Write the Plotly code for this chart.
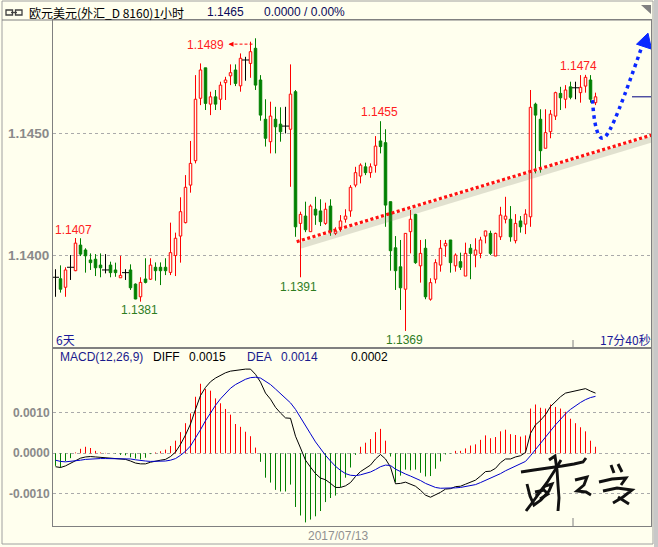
import plotly.graph_objects as go

# ---------------- data (EUR/USD, 1 hour bars, oldest first) ----------------
opens = [1.13910, 1.13904, 1.13869, 1.13951, 1.13937, 1.14042, 1.14022, 1.13981, 1.13984, 1.13960,
         1.13940, 1.13960, 1.13940, 1.13908, 1.13929, 1.13940, 1.13882, 1.13830, 1.13903, 1.13902,
         1.13951, 1.13951, 1.13951, 1.13930, 1.13999, 1.14079, 1.14134, 1.14288, 1.14388, 1.14644,
         1.14769, 1.14620, 1.14650, 1.14640, 1.14708, 1.14736, 1.14760, 1.14695, 1.14801, 1.14787,
         1.14849, 1.14719, 1.14558, 1.14466, 1.14558, 1.14538, 1.14530, 1.14517, 1.14671, 1.14131,
         1.14161, 1.14097, 1.14189, 1.14182, 1.14131, 1.14202, 1.14090, 1.14111, 1.14148, 1.14182,
         1.14288, 1.14325, 1.14363, 1.14339, 1.14369, 1.14469, 1.14462, 1.14220, 1.14031, 1.13953,
         1.13861, 1.14097, 1.14168, 1.13957, 1.14029, 1.13820, 1.13902, 1.13960, 1.14039, 1.14063,
         1.13957, 1.13974, 1.13915, 1.14029, 1.14001, 1.14008, 1.14079, 1.14090, 1.13997, 1.14076,
         1.14148, 1.14148, 1.14060, 1.14141, 1.14128, 1.14158, 1.14620, 1.14558, 1.14439, 1.14507,
         1.14571, 1.14664, 1.14640, 1.14691, 1.14687, 1.14667, 1.14694, 1.14719, 1.14626]
highs = [1.13943, 1.13959, 1.13951, 1.14001, 1.14071, 1.14070, 1.14029, 1.14008, 1.14005, 1.14008,
         1.14005, 1.13974, 1.13970, 1.13998, 1.13943, 1.13963, 1.13885, 1.13910, 1.13988, 1.13988,
         1.13971, 1.13971, 1.13988, 1.14134, 1.14093, 1.14238, 1.14329, 1.14469, 1.14739, 1.14787,
         1.14769, 1.14671, 1.14678, 1.14712, 1.14732, 1.14783, 1.14783, 1.14828, 1.14814, 1.14876,
         1.14890, 1.14739, 1.14640, 1.14630, 1.14609, 1.14607, 1.14609, 1.14783, 1.14678, 1.14179,
         1.14220, 1.14209, 1.14240, 1.14230, 1.14216, 1.14230, 1.14115, 1.14165, 1.14189, 1.14288,
         1.14363, 1.14377, 1.14380, 1.14377, 1.14489, 1.14550, 1.14517, 1.14220, 1.14079, 1.14063,
         1.14090, 1.14186, 1.14170, 1.14063, 1.14066, 1.13906, 1.13984, 1.14063, 1.14063, 1.14063,
         1.14008, 1.14011, 1.14052, 1.14046, 1.14070, 1.14076, 1.14101, 1.14101, 1.14093, 1.14199,
         1.14240, 1.14202, 1.14169, 1.14161, 1.14189, 1.14678, 1.14626, 1.14599, 1.14599, 1.14596,
         1.14671, 1.14691, 1.14698, 1.14712, 1.14712, 1.14739, 1.14740, 1.14739, 1.14667]
lows = [1.13830, 1.13847, 1.13830, 1.13899, 1.13935, 1.13997, 1.13929, 1.13940, 1.13915, 1.13910,
        1.13926, 1.13910, 1.13912, 1.13908, 1.13899, 1.13858, 1.13820, 1.13810, 1.13885, 1.13899,
        1.13896, 1.13878, 1.13919, 1.13919, 1.13915, 1.13970, 1.14131, 1.14257, 1.14377, 1.14616,
        1.14596, 1.14575, 1.14596, 1.14596, 1.14637, 1.14698, 1.14694, 1.14671, 1.14716, 1.14728,
        1.14678, 1.14552, 1.14446, 1.14418, 1.14418, 1.14466, 1.14500, 1.14281, 1.14076, 1.13910,
        1.14095, 1.14097, 1.14125, 1.14120, 1.14125, 1.14080, 1.14083, 1.14097, 1.14134, 1.14158,
        1.14279, 1.14295, 1.14329, 1.14318, 1.14339, 1.14418, 1.14117, 1.13937, 1.13858, 1.13776,
        1.13690, 1.14008, 1.13965, 1.13888, 1.13820, 1.13814, 1.13885, 1.13933, 1.13994, 1.13929,
        1.13933, 1.13940, 1.13915, 1.13902, 1.13951, 1.13988, 1.14049, 1.14001, 1.13997, 1.14063,
        1.14131, 1.14056, 1.14049, 1.14093, 1.14087, 1.14117, 1.14336, 1.14339, 1.14439, 1.14480,
        1.14555, 1.14596, 1.14603, 1.14640, 1.14640, 1.14626, 1.14667, 1.14626, 1.14616]
closes = [1.13910, 1.13861, 1.13940, 1.13951, 1.14050, 1.14005, 1.13998, 1.13970, 1.13949, 1.13949,
          1.13940, 1.13929, 1.13929, 1.13918, 1.13929, 1.13867, 1.13821, 1.13889, 1.13889, 1.13960,
          1.13937, 1.13937, 1.13937, 1.14011, 1.14070, 1.14179, 1.14279, 1.14377, 1.14640, 1.14760,
          1.14623, 1.14650, 1.14620, 1.14698, 1.14719, 1.14749, 1.14705, 1.14808, 1.14801, 1.14835,
          1.14698, 1.14575, 1.14480, 1.14571, 1.14527, 1.14507, 1.14530, 1.14661, 1.14117, 1.14168,
          1.14105, 1.14202, 1.14165, 1.14138, 1.14189, 1.14097, 1.14100, 1.14141, 1.14161, 1.14279,
          1.14339, 1.14370, 1.14339, 1.14363, 1.14448, 1.14446, 1.14206, 1.14019, 1.13937, 1.13867,
          1.14090, 1.14148, 1.13970, 1.14008, 1.13830, 1.13888, 1.13970, 1.14029, 1.14049, 1.13970,
          1.14001, 1.13951, 1.14008, 1.14008, 1.14022, 1.14063, 1.14100, 1.14008, 1.14090, 1.14165,
          1.14161, 1.14076, 1.14131, 1.14117, 1.14169, 1.14607, 1.14575, 1.14429, 1.14503, 1.14579,
          1.14667, 1.14646, 1.14678, 1.14648, 1.14687, 1.14689, 1.14730, 1.14640, 1.14650]

# MACD(12,26,9) values, in units of 0.001
macd_bar_milli = [-0.31, -0.35, -0.19, -0.12, 0.02, 0.11, 0.16, 0.13, 0.06, 0.02,
                  0.01, 0.00, -0.01, -0.04, -0.05, -0.10, -0.13, -0.15, -0.11, -0.02,
                  0.02, 0.05, 0.09, 0.18, 0.31, 0.52, 0.74, 0.98, 1.39, 1.71,
                  1.58, 1.54, 1.35, 1.23, 1.09, 0.95, 0.72, 0.65, 0.53, 0.42,
                  0.14, -0.21, -0.60, -0.72, -0.90, -0.94, -0.94, -0.77, -1.32, -1.53,
                  -1.70, -1.63, -1.55, -1.42, -1.20, -1.10, -1.04, -0.83, -0.60, -0.35,
                  -0.04, 0.16, 0.26, 0.35, 0.52, 0.60, 0.31, -0.08, -0.71, -0.55,
                  -0.40, -0.42, -0.40, -0.48, -0.57, -0.56, -0.38, -0.20, -0.03, -0.01,
                  0.06, 0.06, 0.12, 0.19, 0.22, 0.33, 0.44, 0.37, 0.40, 0.54,
                  0.58, 0.47, 0.45, 0.41, 0.44, 1.10, 1.20, 1.12, 1.10, 1.20,
                  1.14, 1.10, 1.02, 0.85, 0.74, 0.64, 0.54, 0.31, 0.16]
diff_milli = [-0.33, -0.35, -0.31, -0.25, -0.17, -0.12, -0.09, -0.08, -0.09, -0.10,
              -0.11, -0.12, -0.13, -0.14, -0.15, -0.19, -0.24, -0.26, -0.26, -0.22,
              -0.19, -0.17, -0.15, -0.08, 0.03, 0.22, 0.45, 0.72, 1.08, 1.42,
              1.62, 1.76, 1.85, 1.92, 1.98, 2.02, 2.04, 2.06, 2.07, 2.07,
              1.94, 1.75, 1.48, 1.33, 1.13, 0.99, 0.87, 0.86, 0.42, 0.13,
              -0.17, -0.34, -0.50, -0.61, -0.65, -0.74, -0.84, -0.84, -0.80, -0.72,
              -0.57, -0.45, -0.37, -0.29, -0.14, -0.03, -0.14, -0.34, -0.75, -0.74,
              -0.71, -0.77, -0.81, -0.91, -1.03, -1.08, -1.03, -0.96, -0.88, -0.87,
              -0.82, -0.81, -0.76, -0.71, -0.66, -0.56, -0.45, -0.44, -0.37, -0.23,
              -0.14, -0.14, -0.09, -0.06, 0.02, 0.49, 0.70, 0.81, 0.95, 1.15,
              1.27, 1.39, 1.48, 1.51, 1.54, 1.57, 1.59, 1.53, 1.48]
dea_milli = [-0.17, -0.20, -0.21, -0.20, -0.18, -0.17, -0.15, -0.14, -0.13, -0.13,
             -0.13, -0.13, -0.13, -0.13, -0.13, -0.14, -0.16, -0.18, -0.19, -0.20,
             -0.20, -0.20, -0.19, -0.17, -0.13, -0.05, 0.05, 0.18, 0.37, 0.58,
             0.80, 1.00, 1.18, 1.34, 1.48, 1.60, 1.69, 1.76, 1.82, 1.86,
             1.87, 1.85, 1.78, 1.69, 1.58, 1.46, 1.34, 1.24, 1.08, 0.89,
             0.68, 0.48, 0.28, 0.10, -0.05, -0.19, -0.32, -0.42, -0.50, -0.54,
             -0.55, -0.53, -0.50, -0.46, -0.40, -0.33, -0.29, -0.30, -0.39, -0.46,
             -0.51, -0.56, -0.61, -0.67, -0.74, -0.80, -0.84, -0.86, -0.86, -0.86,
             -0.85, -0.84, -0.82, -0.80, -0.77, -0.72, -0.67, -0.62, -0.57, -0.50,
             -0.43, -0.37, -0.31, -0.26, -0.20, -0.06, 0.10, 0.25, 0.40, 0.55,
             0.70, 0.84, 0.97, 1.08, 1.17, 1.25, 1.32, 1.37, 1.40]

price_ticks = [1.1400, 1.1450]
macd_ticks = [-0.0010, 0.0000, 0.0010]
date_label = "2017/07/13"
day_break = 103.5

BG = "#FFFFEE"
RED = "#FF0000"
GREEN = "#008000"
AXC = "#808080"

idx = list(range(len(opens)))
up = [i for i in idx if closes[i] > opens[i]]
dn = [i for i in idx if closes[i] < opens[i]]
dj = [i for i in idx if closes[i] == opens[i]]


def wicks(ids, full=False):
    xs, ys = [], []
    for i in ids:
        top, bot = max(opens[i], closes[i]), min(opens[i], closes[i])
        if full:
            xs += [i, i, None]
            ys += [lows[i], highs[i], None]
        else:
            xs += [i, i, None, i, i, None]
            ys += [highs[i], top, None, bot, lows[i], None]
    return xs, ys


fig = go.Figure()
for ids, col, full in [(up, RED, False), (dn, GREEN, False), (dj, "#000000", True)]:
    wx, wy = wicks(ids, full)
    fig.add_trace(go.Scatter(x=wx, y=wy, mode="lines", line=dict(color=col, width=1),
                             hoverinfo="skip", showlegend=False, xaxis="x", yaxis="y"))

fig.add_trace(go.Bar(x=up, y=[closes[i] - opens[i] for i in up], base=[opens[i] for i in up],
                     width=0.5, marker=dict(color=BG, line=dict(color=RED, width=1)),
                     showlegend=False, xaxis="x", yaxis="y"))
fig.add_trace(go.Bar(x=dn, y=[opens[i] - closes[i] for i in dn], base=[closes[i] for i in dn],
                     width=0.5, marker=dict(color=GREEN, line=dict(color=GREEN, width=1)),
                     showlegend=False, xaxis="x", yaxis="y"))
fig.add_trace(go.Scatter(x=dj, y=[opens[i] for i in dj], mode="markers",
                         marker=dict(symbol="line-ew", size=5, line=dict(color="#000000", width=1)),
                         showlegend=False, xaxis="x", yaxis="y"))

# MACD histogram
macd_bar = [v / 1000 for v in macd_bar_milli]
diff_line = [v / 1000 for v in diff_milli]
dea_line = [v / 1000 for v in dea_milli]
for sign, col in [(1, RED), (-1, GREEN)]:
    hx, hy = [], []
    for i in idx:
        v = macd_bar[i]
        if v * sign > 0:
            hx += [i, i, None]
            hy += [0, v, None]
    fig.add_trace(go.Scatter(x=hx, y=hy, mode="lines", line=dict(color=col, width=1),
                             showlegend=False, xaxis="x2", yaxis="y2"))
fig.add_trace(go.Scatter(x=idx, y=diff_line, mode="lines", line=dict(color="#000000", width=1),
                         showlegend=False, xaxis="x2", yaxis="y2"))
fig.add_trace(go.Scatter(x=idx, y=dea_line, mode="lines", line=dict(color="#0000CC", width=1),
                         showlegend=False, xaxis="x2", yaxis="y2"))

W, H = 658, 547
L, R, T, B = 53, 651, 20, 526
split = (B - 348) / (B - T)


def px(x):
    return (x - L) / (R - L)


def py(y):
    return (B - y) / (B - T)


axis_common = dict(showline=True, mirror=True, linecolor=AXC, linewidth=1, zeroline=False,
                   fixedrange=True, ticks="", automargin=False)
fig.update_layout(
    width=W, height=H, margin=dict(l=L, r=W - R, t=T, b=H - B, autoexpand=False),
    paper_bgcolor=BG, plot_bgcolor=BG, barmode="overlay", showlegend=False,
    font=dict(family="Liberation Sans, Arial, sans-serif", size=12),
    xaxis=dict(domain=[0, 1], range=[-0.5, 119.1], anchor="y", showticklabels=False,
               showgrid=False, **axis_common),
    yaxis=dict(domain=[split, 1], range=[1.13620, 1.14965], tickvals=price_ticks,
               ticktext=[f"{v:.4f}" for v in price_ticks], showgrid=True, gridcolor="#AAAAAA",
               griddash="dot", gridwidth=1,
               tickfont=dict(color="#8A8A8A", size=13.5, family="Liberation Sans", weight="bold"),
               **axis_common),
    xaxis2=dict(domain=[0, 1], range=[-0.5, 119.1], anchor="y2", matches="x",
                showticklabels=False, showgrid=False, **axis_common),
    yaxis2=dict(domain=[0, split], range=[-0.001788, 0.002589], tickvals=macd_ticks,
                ticktext=[f"{v:.4f}" for v in macd_ticks], showgrid=True, gridcolor="#AAAAAA",
                griddash="dot", gridwidth=1,
                tickfont=dict(color="#8A8A8A", size=12, family="Liberation Sans", weight="bold"),
                **axis_common),
)

shapes = []
# outer frame, header separator, right scroll strip
shapes.append(dict(type="rect", xref="paper", yref="paper", x0=px(2), x1=px(653), y0=py(544), y1=py(1),
                   line=dict(color="#A0A0A0", width=1)))
shapes.append(dict(type="rect", xref="paper", yref="paper", x0=px(654), x1=px(658), y0=py(547), y1=py(0),
                   line=dict(width=0), fillcolor="#C8C8C8"))
shapes.append(dict(type="line", xref="paper", yref="paper", x0=px(2), x1=1, y0=1, y1=1,
                   line=dict(color=AXC, width=1)))
# link icon
shapes.append(dict(type="rect", xref="paper", yref="paper", x0=px(6), x1=px(12.5), y0=py(15), y1=py(10),
                   line=dict(color="#404040", width=1.3)))
shapes.append(dict(type="rect", xref="paper", yref="paper", x0=px(15.5), x1=px(22), y0=py(15), y1=py(10),
                   line=dict(color="#404040", width=1.3)))
shapes.append(dict(type="line", xref="paper", yref="paper", x0=px(11), x1=px(17), y0=py(12.5), y1=py(12.5),
                   line=dict(color="#404040", width=1.3)))
# top-right corner triangle
shapes.append(dict(type="path", xref="paper", yref="paper",
                   path=f"M {px(641)} {py(5)} L {px(651)} {py(5)} L {px(651)} {py(14)} Z",
                   fillcolor="#808080", line=dict(width=0)))
# day break ticks
shapes.append(dict(type="line", xref="x", yref="paper", x0=day_break, x1=day_break, y0=split, y1=py(340),
                   line=dict(color=AXC, width=1)))
shapes.append(dict(type="line", xref="x", yref="paper", x0=day_break, x1=day_break, y0=0, y1=py(518),
                   line=dict(color=AXC, width=1)))
# last price marker
shapes.append(dict(type="line", xref="x", yref="y", x0=115.3, x1=119.1, y0=closes[-1], y1=closes[-1],
                   line=dict(color="#000080", width=1)))
# 1.1489 dashed pointer
shapes.append(dict(type="line", xref="x", yref="y", x0=34.8, x1=39.4, y0=1.14866, y1=1.14866,
                   line=dict(color=RED, width=1, dash="3px,2px")))
# trend line with shadow
shapes.append(dict(type="line", xref="x", yref="y", x0=49.0, y0=1.14040, x1=119.6, y1=1.14478,
                   line=dict(color="rgba(120,120,100,0.22)", width=6)))
shapes.append(dict(type="line", xref="x", yref="y", x0=48.24, y0=1.14056, x1=119.5, y1=1.14495,
                   line=dict(color="#FF1010", width=3.2, dash="3px,2.5px")))
# blue dotted forecast curve with arrow head
shapes.append(dict(type="path", xref="x", yref="y",
                   path="M 107.4 1.146364 C 107.7 1.14534 108.5 1.144725 109.6 1.144807 "
                        "C 110.9 1.144889 113.9 1.146569 117.3 1.148577",
                   line=dict(color="#0A28FF", width=3.5, dash="3.5px,4px")))
shapes.append(dict(type="path", xref="x", yref="y",
                   path="M 118.5 1.149110 L 116.2 1.148659 L 119.2 1.148454 Z",
                   fillcolor="#0A28FF", line=dict(color="#0A28FF", width=1)))

# signature (hand-drawn strokes, pixel positions)
strokes = [
    [(521, 472), (534, 470), (548, 468), (562, 466), (574, 464), (583, 462), (586, 458)],
    [(526, 511), (532, 503), (540, 492), (548, 481), (555, 470), (561, 460)],
    [(549, 460), (555, 456), (557, 470), (558, 485), (559, 498), (558, 511)],
    [(527, 484), (530, 496), (534, 505), (541, 500), (549, 491), (552, 484), (545, 486), (536, 496)],
    [(535, 492), (544, 490), (548, 494), (540, 499)],
    [(575, 480), (587, 477), (584, 485), (577, 491), (586, 492), (591, 495)],
    [(611, 465), (614, 473)],
    [(618, 464), (622, 472)],
    [(599, 482), (612, 479), (626, 478), (621, 485)],
    [(603, 491), (617, 488), (632, 490), (623, 497), (613, 503)],
    [(618, 497), (629, 504)],
]
for s in strokes:
    p = "M " + " L ".join(f"{px(a)} {py(b)}" for a, b in s)
    shapes.append(dict(type="path", xref="paper", yref="paper", path=p,
                       line=dict(color="#111111", width=2.9)))
fig.update_layout(shapes=shapes)

ann = []


def note(text, x, y, color, xref="x", yref="y", size=12, anchor="center", family="Liberation Sans"):
    ann.append(dict(text=text, x=x, y=y, xref=xref, yref=yref, showarrow=False, xanchor=anchor,
                    yanchor="middle", font=dict(color=color, size=size, family=family)))


# extreme labels
note(f"{highs[40]:.4f}", 30.0, 1.14862, "#FF2020")
note(f"{highs[4]:.4f}", 3.66, 1.14104, "#FF2020")
note(f"{lows[17]:.4f}", 16.76, 1.13776, "#2E7D1E")
note(f"{lows[49]:.4f}", 48.66, 1.13871, "#2E7D1E")
note(f"{highs[65]:.4f}", 64.84, 1.14586, "#FF2020")
note(f"{lows[70]:.4f}", 69.84, 1.13653, "#2E7D1E")
note(f"{highs[106]:.4f}", 104.66, 1.14775, "#FF2020")
ann.append(dict(x=34.6, y=1.14866, xref="x", yref="y", ax=6, ay=0, text="", showarrow=True,
                arrowhead=2, arrowsize=1, arrowwidth=1, arrowcolor=RED))

# header
note("欧元美元(外汇_D 8160)1小时", px(27), py(12), "#000000", "paper", "paper", 12, "left",
     "Noto Sans CJK SC")
note(f"{closes[-1]:.4f}", px(205), py(12), "#0A0A5A", "paper", "paper", 12, "left")
note("0.0000 / 0.00%", px(262), py(12), "#0A0A5A", "paper", "paper", 12, "left")
# bottom-of-panel texts
note("6天", px(54), py(339.5), "#1A1A9A", "paper", "paper", 12, "left", "Noto Sans CJK SC")
note("17分40秒", px(598), py(339), "#1A1A9A", "paper", "paper", 12, "left", "Noto Sans CJK SC")
# MACD header
note("MACD(12,26,9)", px(58), py(357), "#1A1A8C", "paper", "paper", 12, "left")
note("DIFF", px(151), py(357), "#000000", "paper", "paper", 12, "left")
note(f"{diff_line[-1]:.4f}", px(187), py(357), "#000000", "paper", "paper", 12, "left")
note("DEA", px(245), py(357), "#1A1A8C", "paper", "paper", 12, "left")
note(f"{dea_line[-1]:.4f}", px(279), py(357), "#1A1A8C", "paper", "paper", 12, "left")
note(f"{macd_bar[-1]:.4f}", px(349), py(357), "#000000", "paper", "paper", 12, "left")
# date label under the MACD panel
note(date_label, px(338), py(536), "#909090", "paper", "paper", 12, "center")
fig.update_layout(annotations=ann)

fig.write_html("out.html", config={"displayModeBar": False},
               post_script="document.body.style.margin='0';"
                           "document.body.style.background='" + BG + "';")
